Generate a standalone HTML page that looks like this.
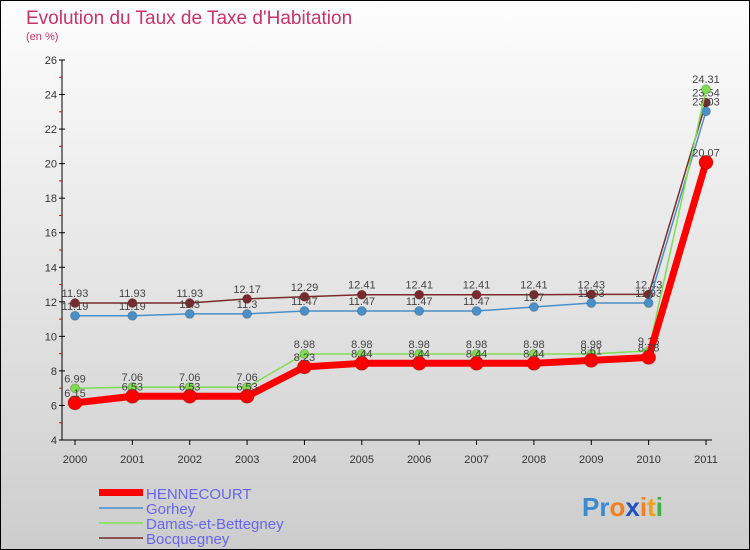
<!DOCTYPE html>
<html><head><meta charset="utf-8"><style>
body{margin:0;width:750px;height:550px;overflow:hidden;font-family:"Liberation Sans",sans-serif}
svg{display:block}
</style></head><body>
<svg id="c" width="750" height="550" xmlns="http://www.w3.org/2000/svg">
<defs><linearGradient id="bg" x1="0" y1="0" x2="0" y2="1"><stop offset="0" stop-color="#fdfdfd"/><stop offset="1" stop-color="#cdcdcd"/></linearGradient></defs>
<rect x="0.5" y="0.5" width="749" height="549" fill="url(#bg)" stroke="#000"/>
<text x="26" y="24" font-size="19" fill="#c8336a">Evolution du Taux de Taxe d'Habitation</text>
<text x="26" y="40" font-size="11" fill="#c8336a">(en %)</text>
<g id="axes"></g><g id="series"></g>
<g>
<rect x="99" y="489" width="44" height="7" fill="#f00"/>
<text x="146" y="499" font-size="15" fill="#6666ee">HENNECOURT</text>
<rect x="99" y="507" width="44" height="2" fill="#6a9ed0"/>
<text x="146" y="514" font-size="15" fill="#6666ee">Gorhey</text>
<rect x="99" y="522" width="44" height="2" fill="#90e070"/>
<text x="146" y="529" font-size="15" fill="#6666ee">Damas-et-Bettegney</text>
<rect x="99" y="537" width="44" height="2" fill="#8b5050"/>
<text x="146" y="544" font-size="15" fill="#6666ee">Bocquegney</text>
</g>
<text x="582" y="516" font-size="26" font-weight="bold"><tspan fill="#3a8ad0">Pr</tspan><tspan fill="#f08020">o</tspan><tspan fill="#2050c0">x</tspan><tspan fill="#f08020">i</tspan><tspan fill="#f0a020">t</tspan><tspan fill="#40b040">i</tspan></text>
</svg>
<script>
const years=[2000,2001,2002,2003,2004,2005,2006,2007,2008,2009,2010,2011];
const yTicks=[4,6,8,10,12,14,16,18,20,22,24,26];
const hennecourt=[6.15,6.53,6.53,6.53,8.23,8.44,8.44,8.44,8.44,8.61,8.78,20.07];
const gorhey=[11.19,11.19,11.3,11.3,11.47,11.47,11.47,11.47,11.7,11.93,11.93,23.03];
const damas=[6.99,7.06,7.06,7.06,8.98,8.98,8.98,8.98,8.98,8.98,9.16,24.31];
const bocquegney=[11.93,11.93,11.93,12.17,12.29,12.41,12.41,12.41,12.41,12.43,12.43,23.54];
const NS="http://www.w3.org/2000/svg";
const X=i=>75+i*(631/11);
const Y=v=>440-(v-4)*(380/22);
function mk(t,a,p){const e=document.createElementNS(NS,t);for(const k in a)e.setAttribute(k,a[k]);p.appendChild(e);return e;}
const ax=document.getElementById('axes'),sg=document.getElementById('series');
let l=mk('line',{x1:62,y1:60,x2:62,y2:440,stroke:'#000'},ax);


l=mk('line',{x1:62,y1:440,x2:712,y2:440,stroke:'#000'},ax);


yTicks.forEach(v=>{
 mk('line',{x1:59,y1:Y(v),x2:65,y2:Y(v),stroke:'#000'},ax);
 if(v<26)mk('line',{x1:59,y1:Y(v+1),x2:62,y2:Y(v+1),stroke:'#e00'},ax);
 const t=mk('text',{x:57,y:Y(v)+4,'font-size':11,'text-anchor':'end',fill:'#333'},ax);
 t.textContent=v;
 
 
});
years.forEach((yr,i)=>{
 mk('line',{x1:X(i),y1:440,x2:X(i),y2:445,stroke:'#000'},ax);
 const t=mk('text',{x:X(i),y:463,'font-size':11,'text-anchor':'middle',fill:'#333'},ax);
 t.textContent=yr;
 
 
});
function series(vals,color,w,r,name){
 const g=mk('g',{},sg);
 
 
 mk('polyline',{points:vals.map((v,i)=>X(i)+','+Y(v)).join(' '),fill:'none',stroke:color,'stroke-width':w,'stroke-linejoin':'round'},g);
 vals.forEach((v,i)=>{
  const c=mk('circle',{cx:X(i),cy:Y(v),r:r,fill:color,stroke:'rgba(0,0,0,0.2)'},g);
  
  
  const t=mk('text',{x:X(i),y:Y(v)-6,'font-size':11,'text-anchor':'middle',fill:'#444'},g);
  t.textContent=v;
 });
}
series(bocquegney,'#7a2a2a',1.5,4.5,'bocquegney');
series(gorhey,'#4a90c8',1.5,4.5,'gorhey');
series(damas,'#80dd50',1.5,4.5,'damas');
series(hennecourt,'#f00',7,7,'hennecourt');
</script>
</body></html>
